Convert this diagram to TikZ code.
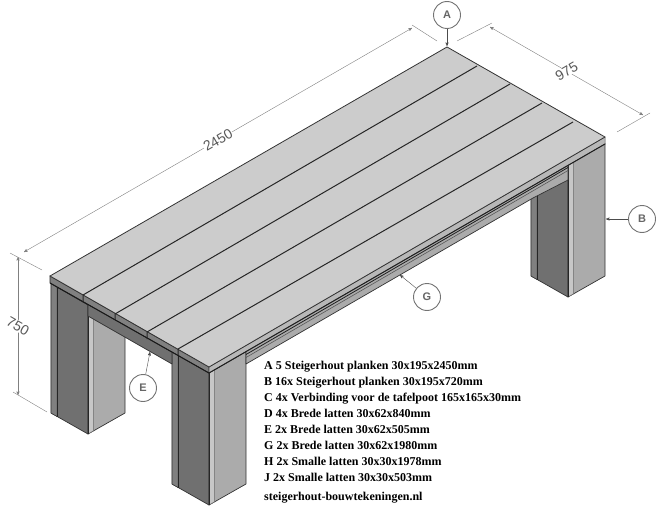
\documentclass[tikz,border=0pt]{standalone}
\usepackage{fontspec}
\setmainfont{Liberation Serif}
\newfontfamily\dimfont{Liberation Sans}
\usetikzlibrary{arrows}

\tikzset{
	topface/.style={fill=black!20,draw=black!80,line width=0.8pt,line join=round},
	darkface/.style={fill=black!56,draw=black!80,line width=0.7pt,line join=round},
	lightface/.style={fill=black!33,draw=black!80,line width=0.7pt,line join=round},
	bandface/.style={fill=black!28,draw=black!70,line width=0.5pt},
	seam/.style={draw=black!85,line width=1pt},
	dimline/.style={draw=black!50,line width=0.4pt},
	dimtext/.style={font=\dimfont\fontsize{14}{14}\selectfont,text=black!65,fill=white,inner sep=0.5pt},
	callout/.style={shape=circle,draw=black!55,fill=white,line width=0.9pt,minimum size=27pt,inner sep=0pt,font=\dimfont\bfseries\fontsize{11}{11}\selectfont,text=black!60},
	leader/.style={draw=black!70,line width=0.4pt,->,>=stealth',shorten >=0pt}
}

% #1 corner x, #2 corner top, #3 corner bottom
\newcommand{\drawleg}[3]{
	\fill[darkface] (#1-37,#2-21.5) -- (#1,#2) -- (#1,#3) -- (#1-37,#3-21) -- cycle;
	\fill[black!50,draw=black!80,line width=0.5pt] (#1-37,#2-21.5) -- (#1-31,#2-18) -- (#1-31,#3-17.5) -- (#1-37,#3-21) -- cycle;
	\draw[black!85,line width=1pt] (#1-31,#2-18) -- (#1-31,#3-17.5);
	\fill[lightface] (#1,#2) -- (#1+37,#2-21.5) -- (#1+37,#3-21) -- (#1,#3) -- cycle;
	\fill[black!22,draw=black!60,line width=0.5pt] (#1,#2) -- (#1+5.5,#2-3.2) -- (#1+5.5,#3-3.2) -- (#1,#3) -- cycle;
	\draw[black!85,line width=1pt] (#1,#2) -- (#1,#3);
}

\begin{document}
\begin{tikzpicture}[x=1pt,y=-1pt]
	\useasboundingbox (0,0) rectangle (664,524);

	% legs
	\drawleg{568}{165}{297}
	\drawleg{88}{305}{434}
	\drawleg{209}{373}{505}

	% rails under the top
	\fill[darkface] (88,303) -- (172,352) -- (172,364) -- (88,316) -- cycle;
	\fill[lightface] (246,351) -- (568,164) -- (568,180) -- (533,198) -- (246,364) -- cycle;
	\draw[black!88,line width=0.8pt] (246,354.5) -- (568,167.5);
	\draw[black!65,line width=0.6pt] (246,357.5) -- (568,170.5);

	% table top
	\fill[black!50,draw=black!85,line width=0.6pt] (50,276) -- (209,367) -- (209,373) -- (50,283) -- cycle;
	\draw[black!90,line width=1pt] (50,283) -- (209,373);
	\fill[bandface] (209,367) -- (605,137) -- (605,144) -- (209,373) -- cycle;
	\draw[black!88,line width=1pt] (209,373) -- (605,144);
	\fill[topface] (50,276) -- (447,47) -- (605,137) -- (209,367) -- cycle;
	\draw[seam] (83,302) -- (83,295) -- (477,66);
	\draw[seam] (115,320) -- (115,314) -- (510,84);
	\draw[seam] (147,339) -- (147,332) -- (542,103);
	\draw[seam] (178,355) -- (178,349) -- (573,122);

	% overall dimensions
	\coordinate (lenStart) at (24,252);
	\coordinate (lenEnd) at (412,28);
	\coordinate (widStart) at (490,27);
	\coordinate (widEnd) at (643,115);
	\coordinate (hgtStart) at (18,257);
	\coordinate (hgtEnd) at (18,395);
	\draw[dimline] (10,253) -- (42,270);
	\draw[dimline] (412,25) -- (437,41);
	\draw[dimline] (457,41) -- (492,23);
	\draw[dimline] (617,132) -- (650,113);
	\draw[dimline] (13,392) -- (47,412);
	\path[leader,<->,draw=black!50] (lenStart) -- node[dimtext,sloped] (lenLabel) {2450} (lenEnd);
	\path[leader,<->,draw=black!50] (widStart) -- node[dimtext,rotate=30] (widLabel) {975} (widEnd);
	\path[leader,<->,draw=black!50] (hgtStart) -- node[dimtext,rotate=-30] (hgtLabel) {750} (hgtEnd);

	% part callouts
	\node (calloutA) [callout] at (447,15) {A};
	\node (calloutB) [callout] at (642,219) {B};
	\node (calloutE) [callout] at (143,388) {E};
	\node (calloutG) [callout] at (427,297) {G};
	\coordinate (tipA) at (447,46);
	\coordinate (tipB) at (606,219);
	\coordinate (tipE) at (150,352);
	\coordinate (tipG) at (400,275);
	\path[leader] (calloutA) -- (tipA);
	\path[leader] (calloutB) -- (tipB);
	\path[leader] (calloutE) -- (tipE);
	\path[leader] (calloutG) -- (tipG);

	% parts list
	\node (partlist) [shape=rectangle,anchor=north west,inner sep=0pt,font=\bfseries\fontsize{12}{16}\selectfont] at (264,358) {
		\begin{tabular}{@{}l@{}}
			A 5 Steigerhout planken 30x195x2450mm\\
			B 16x Steigerhout planken 30x195x720mm\\
			C 4x Verbinding voor de tafelpoot 165x165x30mm\\
			D 4x Brede latten 30x62x840mm\\
			E 2x Brede latten 30x62x505mm\\
			G 2x Brede latten 30x62x1980mm\\
			H 2x Smalle latten 30x30x1978mm\\
			J 2x Smalle latten 30x30x503mm\\[3.5pt]
			steigerhout-bouwtekeningen.nl
		\end{tabular}
	};
\end{tikzpicture}
\end{document}
